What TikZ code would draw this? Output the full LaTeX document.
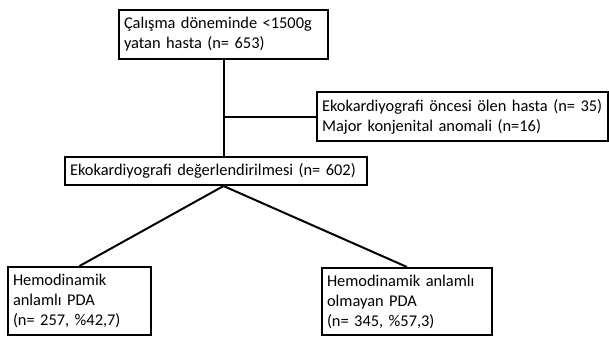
\documentclass[tikz,border=0pt]{standalone}
\usepackage{fontspec}
\setmainfont{Carlito}
\usetikzlibrary{calc}
\tikzset{
  flow box/.style={draw=black, line width=2pt, fill=white, align=left, inner xsep=5pt, inner ysep=0pt, font=\fontsize{16.4}{20}\selectfont},
  flow line/.style={line width=2pt, black},
}

\begin{document}
\begin{tikzpicture}[x=1pt, y=-1pt]
  \useasboundingbox (0,0) rectangle (609,338);
  \node[flow box, minimum width=209pt, minimum height=49pt, text width=199pt] (total) at (223.5,34.5) {Çalışma döneminde <1500g\\yatan hasta (n= 653)};
  \node[flow box, minimum width=291pt, minimum height=49pt, text width=281pt] (excluded) at (462.5,116.5) {Ekokardiyografi öncesi ölen hasta (n= 35)\\Major konjenital anomali (n=16)};
  \node[flow box, minimum width=302pt, minimum height=28pt, text width=292pt] (echo) at (216,171) {Ekokardiyografi değerlendirilmesi (n= 602)};
  \node[flow box, minimum width=143pt, minimum height=68pt, text width=133pt] (hspda) at (79.5,301) {Hemodinamik\\anlamlı PDA\\(n= 257, \%42,7)};
  \node[flow box, minimum width=170pt, minimum height=67pt, text width=160pt] (nohspda) at (407,301.5) {Hemodinamik anlamlı\\olmayan PDA\\(n= 345, \%57,3)};
  \coordinate (trunk) at (total.south |- echo.north);
  \coordinate (branch) at (total.south |- excluded.west);
  \coordinate (split) at (total.south |- echo.south);
  \draw[flow line] (total.south) -- (trunk);
  \draw[flow line] (branch) -- (excluded.west);
  \draw[flow line] (split) -- (hspda.north);
  \draw[flow line] (split) -- (nohspda.north);
\end{tikzpicture}
\end{document}
